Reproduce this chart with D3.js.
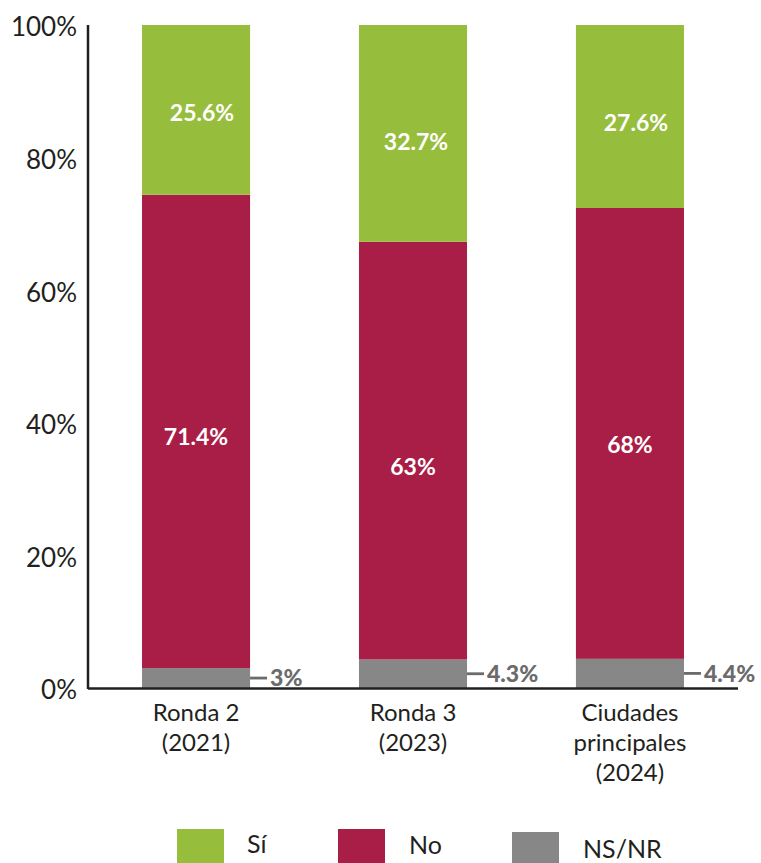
<!DOCTYPE html>
<html lang="es">
<head>
<meta charset="utf-8">
<script src="https://cdn.jsdelivr.net/npm/d3@7"></script>
<style>
  html, body { margin: 0; padding: 0; background: #fff; }
  svg { display: block; font-family: "Lato", "Noto Sans", sans-serif; }
</style>
</head>
<body>
<svg id="chart" width="761" height="863"></svg>
<script>
// Categories (multi-line axis labels)
const categories = ["Ronda 2 (2021)", "Ronda 3 (2023)", "Ciudades principales (2024)"];
const categoryLines = [["Ronda 2", "(2021)"], ["Ronda 3", "(2023)"], ["Ciudades", "principales", "(2024)"]];

// Series, stacked bottom to top
const seriesKeys = ["NS/NR", "No", "Sí"];
const nsnrValues = [3, 4.3, 4.4];
const noValues = [71.4, 63, 68];
const siValues = [25.6, 32.7, 27.6];

// Axis ticks
const yTicks = [0, 20, 40, 60, 80, 100];

const colors = { "Sí": "#97bd3d", "No": "#a81e46", "NS/NR": "#878787" };

// Small hand adjustments of the in-bar label positions (px), per category
const labelNudge = {
  "Sí": [{ dx: 6, dy: 3 }, { dx: 3, dy: 8 }, { dx: 6, dy: 6 }],
  "No": [{ dx: 0, dy: 5 }, { dx: 0, dy: 16 }, { dx: 0, dy: 11 }]
};

const rows = categories.map((c, i) => ({
  category: c,
  "NS/NR": nsnrValues[i],
  "No": noValues[i],
  "Sí": siValues[i]
}));

const svg = d3.select("#chart");

const x = d3.scaleBand()
  .domain(categories)
  .range([88, 738])
  .paddingInner(0.502)
  .paddingOuter(0.249);

const y = d3.scaleLinear().domain([0, 100]).range([688, 25]);

const stack = d3.stack().keys(seriesKeys);
const stacked = stack(rows);

// Bars
const layers = svg.append("g").selectAll("g")
  .data(stacked)
  .join("g")
  .attr("fill", d => colors[d.key]);

layers.selectAll("rect")
  .data(d => d)
  .join("rect")
  .attr("x", d => x(d.data.category))
  .attr("width", x.bandwidth())
  .attr("y", d => y(d[1]))
  .attr("height", d => y(d[0]) - y(d[1]));

// Axes
const axisColor = "#231f20";
svg.append("line")
  .attr("x1", 88).attr("x2", 88)
  .attr("y1", y(100)).attr("y2", y(0) + 1)
  .attr("stroke", axisColor).attr("stroke-width", 2.5);
svg.append("line")
  .attr("x1", 88).attr("x2", 738)
  .attr("y1", y(0) + 0.5).attr("y2", y(0) + 0.5)
  .attr("stroke", axisColor).attr("stroke-width", 2.5);

const yAxis = d3.axisLeft(y)
  .tickValues(yTicks)
  .tickFormat(d => d + "%")
  .tickSize(0)
  .tickPadding(11);

const gy = svg.append("g").attr("transform", "translate(88,0)").call(yAxis);
gy.select(".domain").remove();
gy.selectAll("text")
  .attr("font-family", "Lato, 'Noto Sans', sans-serif")
  .attr("font-size", 26)
  .attr("fill", "#231f20")
  .attr("dy", "0.42em");

// Category labels
const catG = svg.append("g")
  .selectAll("text")
  .data(categories)
  .join("text")
  .attr("x", d => x(d) + x.bandwidth() / 2)
  .attr("y", 721)
  .attr("text-anchor", "middle")
  .attr("font-size", 24)
  .attr("fill", "#231f20");

catG.each(function (d, i) {
  d3.select(this).selectAll("tspan")
    .data(categoryLines[i])
    .join("tspan")
    .attr("x", x(d) + x.bandwidth() / 2)
    .attr("dy", (t, j) => j === 0 ? 0 : 30)
    .text(t => t);
});

// In-bar value labels (Sí, No)
["Sí", "No"].forEach(key => {
  const layer = stacked.find(s => s.key === key);
  svg.append("g").selectAll("text")
    .data(layer)
    .join("text")
    .attr("x", (d, i) => x(d.data.category) + x.bandwidth() / 2 + labelNudge[key][i].dx)
    .attr("y", (d, i) => (y(d[0]) + y(d[1])) / 2 + labelNudge[key][i].dy)
    .attr("dy", "0.36em")
    .attr("text-anchor", "middle")
    .attr("font-size", 23)
    .attr("font-weight", 700)
    .attr("fill", "#ffffff")
    .text(d => d.data[key] + "%");
});

// NS/NR labels with leader dash to the right of each bar
const nsLayer = stacked.find(s => s.key === "NS/NR");
const nsG = svg.append("g").selectAll("g")
  .data(nsLayer)
  .join("g")
  .attr("transform", d => `translate(${x(d.data.category) + x.bandwidth()},${(y(d[0]) + y(d[1])) / 2})`);

nsG.append("line")
  .attr("x1", 0).attr("x2", 17)
  .attr("y1", 0).attr("y2", 0)
  .attr("stroke", "#6b6b6b").attr("stroke-width", 2.8);

nsG.append("text")
  .attr("x", 20)
  .attr("dy", "0.36em")
  .attr("font-size", 23)
  .attr("font-weight", 900)
  .attr("fill", "#6b6b6b")
  .text(d => d.data["NS/NR"] + "%");

// Legend
const legendItems = [
  { key: "Sí", sx: 177, sy: 829, tx: 247, ty: 853 },
  { key: "No", sx: 338, sy: 829, tx: 409, ty: 854 },
  { key: "NS/NR", sx: 512, sy: 832, tx: 583, ty: 858 }
];
const lg = svg.append("g").selectAll("g")
  .data(legendItems)
  .join("g");
lg.append("rect")
  .attr("x", d => d.sx).attr("y", d => d.sy)
  .attr("width", 47).attr("height", 47)
  .attr("fill", d => colors[d.key]);
lg.append("text")
  .attr("x", d => d.tx).attr("y", d => d.ty)
  .attr("font-size", 25)
  .attr("fill", "#231f20")
  .text(d => d.key);
</script>
</body>
</html>
